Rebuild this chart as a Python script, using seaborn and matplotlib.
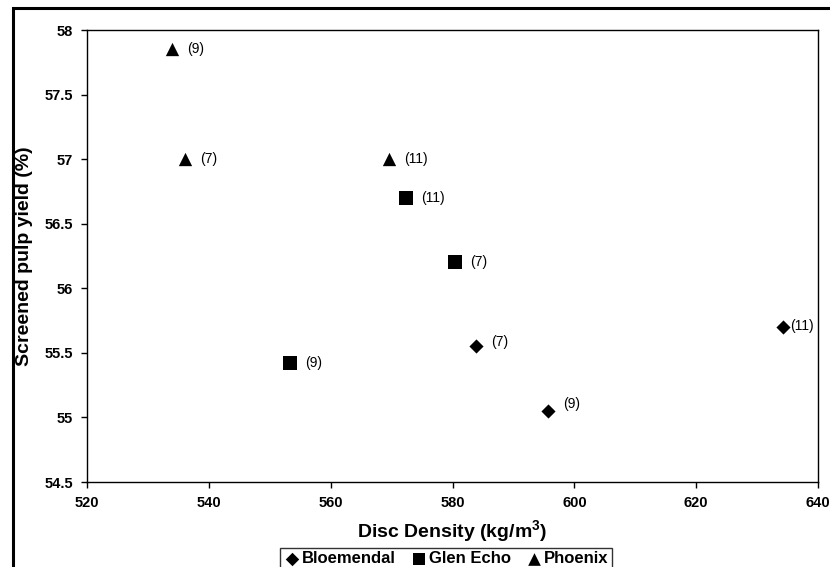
import numpy as np
import pandas as pd
import matplotlib
matplotlib.use("Agg")
import matplotlib.pyplot as plt
from matplotlib.patches import Rectangle
import seaborn as sns

# Data
varieties = ["Bloemendal", "Bloemendal", "Bloemendal",
             "Glen Echo", "Glen Echo", "Glen Echo",
             "Phoenix", "Phoenix", "Phoenix"]
ages = ["(7)", "(9)", "(11)",
        "(7)", "(9)", "(11)",
        "(7)", "(9)", "(11)"]
density = [583.8, 595.7, 634.3,
           580.4, 553.3, 572.3,
           536.1, 534.0, 569.6]
pulp_yield = [55.55, 55.05, 55.70,
              56.20, 55.42, 56.70,
              57.00, 57.85, 57.00]

df = pd.DataFrame({"Variety": varieties, "Age": ages,
                   "Density": density, "Yield": pulp_yield})

sns.set_theme(style="white")
plt.rcParams["font.family"] = ["Liberation Sans", "DejaVu Sans"]
plt.rcParams["mathtext.fontset"] = "custom"
plt.rcParams["mathtext.rm"] = "Liberation Sans:bold"
plt.rcParams["mathtext.bf"] = "Liberation Sans:bold"
for key in ["text.color", "axes.labelcolor", "xtick.color", "ytick.color"]:
    plt.rcParams[key] = "black"

fig = plt.figure(figsize=(8.3, 5.67), dpi=100)
ax = fig.add_axes([87 / 830, 1 - 482 / 567, (818 - 87) / 830, (482 - 30) / 567])

markers = {"Bloemendal": "D", "Glen Echo": "s", "Phoenix": "^"}
sizes = {"Bloemendal": 52, "Glen Echo": 88, "Phoenix": 92}
for name in ["Bloemendal", "Glen Echo", "Phoenix"]:
    sub = df[df["Variety"] == name]
    sns.scatterplot(data=sub, x="Density", y="Yield", marker=markers[name],
                    s=sizes[name], color="black", edgecolor="black",
                    linewidth=0, label=name, ax=ax)

# point labels (age in years)
label_offsets = {("Bloemendal", "(11)"): (5, 1), ("Bloemendal", "(9)"): (11, 5),
                 ("Bloemendal", "(7)"): (11, 3)}
for v, a, x, y in zip(varieties, ages, density, pulp_yield):
    dx, dy = label_offsets.get((v, a), (11, 0))
    ax.annotate(a, (x, y), xytext=(dx, dy), textcoords="offset points",
                fontsize=10, va="center", ha="left", color="black")

ax.set_xlim(520, 640)
ax.set_ylim(54.5, 58)
ax.set_xticks(np.arange(520, 641, 20))
ax.set_yticks(np.arange(54.5, 58.01, 0.5))
ax.set_yticklabels(["54.5", "55", "55.5", "56", "56.5", "57", "57.5", "58"])

for s in ax.spines.values():
    s.set_visible(True)
    s.set_color("black")
    s.set_linewidth(1.0)

ax.tick_params(axis="both", direction="out", length=4, width=1, color="black",
               labelsize=10.5, labelcolor="black", pad=6, bottom=True, left=True)
for lab in ax.get_xticklabels() + ax.get_yticklabels():
    lab.set_fontweight("bold")

ax.set_xlabel("Disc Density (kg/m$^{3}$)", fontsize=14, fontweight="bold",
              labelpad=6, color="black")
ax.set_ylabel("Screened pulp yield (%)", fontsize=14, fontweight="bold",
              labelpad=8, color="black")

leg = ax.legend(loc="upper center", bbox_to_anchor=(446 / 830, 1 - 548 / 567),
                bbox_transform=fig.transFigure, ncol=3, frameon=True,
                prop={"weight": "bold", "size": 12}, handletextpad=0.1,
                columnspacing=0.9, borderpad=0.2, handlelength=1.0,
                fancybox=False, borderaxespad=0, markerscale=0.95)
leg.get_frame().set_edgecolor("black")
leg.get_frame().set_linewidth(1.0)
for t in leg.get_texts():
    t.set_color("black")

# outer chart-area border
fig.patches.append(Rectangle((13 / 830, -0.05), 1.1, 1 - 8 / 567 + 0.05,
                             transform=fig.transFigure, fill=False,
                             edgecolor="black", linewidth=2.2, clip_on=False))

fig.savefig("out.png", dpi=100)
